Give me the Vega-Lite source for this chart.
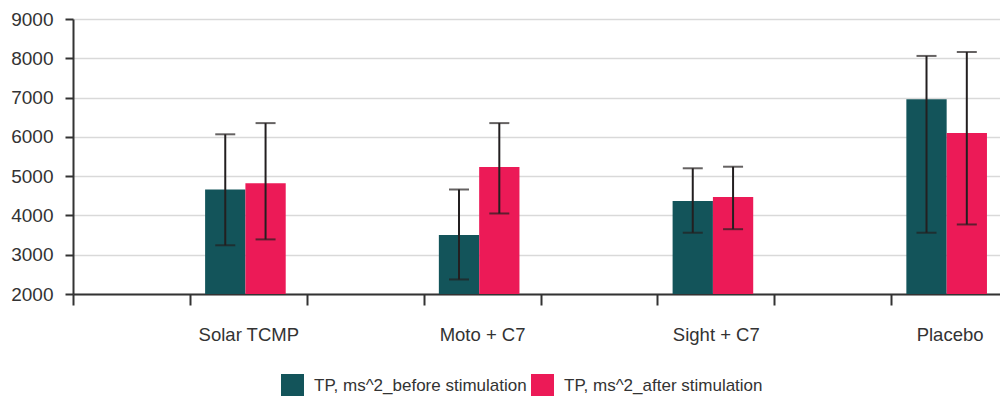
{
  "$schema": "https://vega.github.io/schema/vega-lite/v6.json",
  "width": 935,
  "height": 275,
  "autosize": {"type": "none"},
  "padding": {"left": 73, "top": 19, "right": 0, "bottom": 102},
  "background": "white",
  "config": {
    "view": {"stroke": null},
    "font": "Liberation Sans",
    "axis": {"labelFont": "Liberation Sans", "labelColor": "#333333", "labelFontSize": 18.5, "labelOverlap": false},
    "axisY": {
      "title": null,
      "grid": true,
      "gridColor": "#d9d9d9",
      "gridWidth": 1.5,
      "tickSize": 8,
      "tickWidth": 2,
      "tickColor": "#333333",
      "domainColor": "#333333",
      "domainWidth": 2,
      "labelPadding": 12,
      "labelFontSize": 19,
      "labelOverlap": false
    }
  },
  "data": {
    "values": [
      {"group": "Solar TCMP", "series": "TP, ms^2_before stimulation", "value": 4660, "lo": 3240, "hi": 6065},
      {"group": "Solar TCMP", "series": "TP, ms^2_after stimulation", "value": 4820, "lo": 3390, "hi": 6350},
      {"group": "Moto + C7", "series": "TP, ms^2_before stimulation", "value": 3500, "lo": 2370, "hi": 4660},
      {"group": "Moto + C7", "series": "TP, ms^2_after stimulation", "value": 5230, "lo": 4050, "hi": 6350},
      {"group": "Sight + C7", "series": "TP, ms^2_before stimulation", "value": 4370, "lo": 3560, "hi": 5200},
      {"group": "Sight + C7", "series": "TP, ms^2_after stimulation", "value": 4470, "lo": 3650, "hi": 5240},
      {"group": "Placebo", "series": "TP, ms^2_before stimulation", "value": 6960, "lo": 3560, "hi": 8060},
      {"group": "Placebo", "series": "TP, ms^2_after stimulation", "value": 6100, "lo": 3770, "hi": 8160}
    ]
  },
  "encoding": {
    "x": {
      "field": "group",
      "type": "nominal",
      "scale": {"domain": [" ", "Solar TCMP", "  ", "Moto + C7", "   ", "Sight + C7", "    ", "Placebo"], "paddingInner": 0, "paddingOuter": 0},
      "sort": null,
      "axis": {
        "title": null,
        "labelAngle": 0,
        "tickBand": "extent",
        "tickSize": 11,
        "tickWidth": 2,
        "tickColor": "#333333",
        "domainColor": "#333333",
        "domainWidth": 2,
        "labelPadding": 20,
        "grid": false
      }
    },
    "xOffset": {
      "field": "series",
      "type": "nominal",
      "scale": {"domain": ["TP, ms^2_before stimulation", "TP, ms^2_after stimulation"], "paddingInner": 0, "paddingOuter": 0.45, "align": 0.42}
    }
  },
  "layer": [
    {
      "mark": {"type": "bar", "clip": true},
      "encoding": {
        "y": {
          "field": "value",
          "type": "quantitative",
          "scale": {"domain": [2000, 9000], "nice": false, "zero": false},
          "axis": {"values": [2000, 3000, 4000, 5000, 6000, 7000, 8000, 9000], "format": "d"}
        },
        "color": {
          "field": "series",
          "type": "nominal",
          "scale": {"domain": ["TP, ms^2_before stimulation", "TP, ms^2_after stimulation"], "range": ["#13545a", "#ec1a57"]},
          "legend": {
            "title": null,
            "orient": "none",
            "direction": "horizontal",
            "legendX": 208,
            "legendY": 355,
            "symbolType": "square",
            "symbolSize": 529,
            "symbolStrokeWidth": 0,
            "labelFontSize": 17,
            "labelFont": "Liberation Sans",
            "labelColor": "#333333",
            "labelOffset": 10,
            "labelLimit": 400,
            "columnPadding": 4
          }
        }
      }
    },
    {
      "mark": {"type": "rule", "color": "#231f20", "strokeWidth": 2},
      "encoding": {
        "y": {"field": "lo", "type": "quantitative", "axis": {"values": [2000, 3000, 4000, 5000, 6000, 7000, 8000, 9000], "format": "d"}},
        "y2": {"field": "hi"}
      }
    },
    {
      "mark": {"type": "tick", "color": "#231f20", "thickness": 2, "size": 20},
      "encoding": {"y": {"field": "lo", "type": "quantitative", "axis": {"values": [2000, 3000, 4000, 5000, 6000, 7000, 8000, 9000], "format": "d"}}}
    },
    {
      "mark": {"type": "tick", "color": "#231f20", "thickness": 2, "size": 20},
      "encoding": {"y": {"field": "hi", "type": "quantitative", "axis": {"values": [2000, 3000, 4000, 5000, 6000, 7000, 8000, 9000], "format": "d"}}}
    }
  ]
}
